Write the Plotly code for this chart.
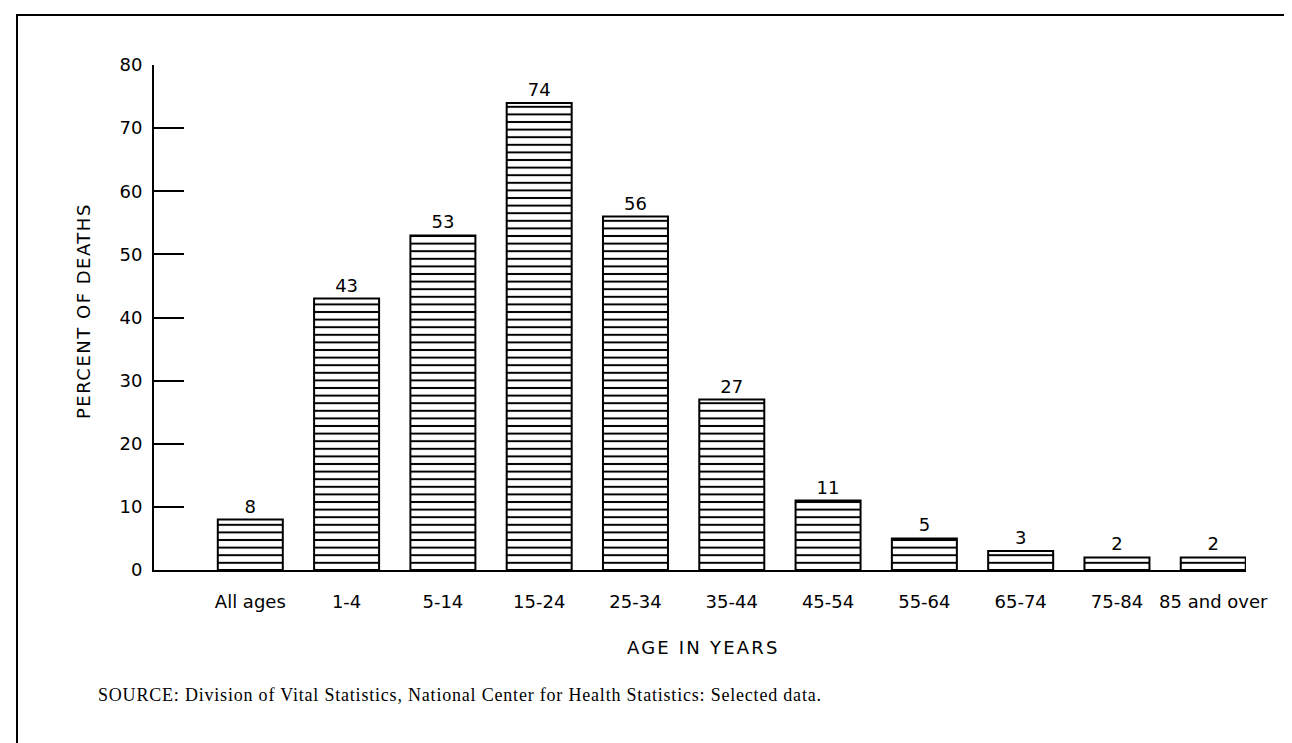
import plotly.graph_objects as go

categories = ["All ages", "1-4", "5-14", "15-24", "25-34", "35-44",
              "45-54", "55-64", "65-74", "75-84", "85 and over"]
percent_values = [8, 43, 53, 74, 56, 27, 11, 5, 3, 2, 2]
bar_labels = ["8", "43", "53", "74", "56", "27", "11", "5", "3", "2", "2"]
y_ticks = [0, 10, 20, 30, 40, 50, 60, 70, 80]

x_title = "AGE IN YEARS"
y_title = "PERCENT OF DEATHS"
source_text = "SOURCE: Division of Vital Statistics, National Center for Health Statistics: Selected data."

W, H = 1292, 743
L, R, T, B = 146, 54, 57, 181

SANS = "DejaVu Sans, Arial, sans-serif"
SERIF = "Liberation Serif, Times New Roman, serif"

fig = go.Figure()
fig.add_trace(go.Bar(
    x=list(range(len(categories))),
    y=percent_values,
    text=bar_labels,
    textposition="outside",
    cliponaxis=False,
    textfont=dict(family=SANS, size=18, color="black"),
    marker=dict(
        color="white",
        line=dict(color="black", width=2),
        pattern=dict(shape="-", size=7.6, solidity=0.26,
                     fgcolor="black", bgcolor="white", fillmode="replace"),
    ),
    hoverinfo="skip",
))

fig.update_layout(
    width=W, height=H,
    margin=dict(l=L, r=R, t=T, b=B, pad=0),
    paper_bgcolor="white", plot_bgcolor="white",
    showlegend=False,
    bargap=0.325,
    xaxis=dict(
        range=[-1, 10.34],
        tickmode="array",
        tickvals=list(range(len(categories))),
        ticktext=categories,
        showline=True, linecolor="black", linewidth=2,
        ticks="", showgrid=False, zeroline=False,
        tickfont=dict(family=SANS, size=18, color="black"),
        ticklabelstandoff=14,
    ),
    yaxis=dict(
        range=[0, 80],
        tickmode="array",
        tickvals=y_ticks,
        showline=True, linecolor="black", linewidth=2,
        ticks="inside", ticklen=30, tickwidth=2, tickcolor="black",
        showgrid=False, zeroline=False,
        tickfont=dict(family=SANS, size=18, color="black"),
        ticklabelstandoff=6,
    ),
)

def px_x(px):
    return (px - L) / (W - L - R)

def px_y(py):
    return (H - B - py) / (H - T - B)

fig.add_annotation(
    text='<span style="letter-spacing:2.2px">' + x_title + '</span>',
    xref="paper", yref="paper", x=px_x(695), y=px_y(639),
    xanchor="center", yanchor="middle", showarrow=False,
    font=dict(family=SANS, size=18, color="black"),
)
fig.add_annotation(
    text='<span style="letter-spacing:1.5px">' + y_title + '</span>',
    xref="paper", yref="paper", x=px_x(75), y=px_y(303),
    xanchor="center", yanchor="middle", showarrow=False, textangle=-90,
    font=dict(family=SANS, size=18, color="black"),
)
fig.add_annotation(
    text='<span style="letter-spacing:0.8px">' + source_text + '</span>',
    xref="paper", yref="paper", x=px_x(88), y=px_y(687),
    xanchor="left", yanchor="middle", showarrow=False,
    font=dict(family=SERIF, size=18, color="black"),
)

# outer frame (bottom edge runs off the page, as in the original)
fig.add_shape(type="rect", xref="paper", yref="paper",
              x0=px_x(9), x1=px_x(1289), y0=px_y(760), y1=px_y(7),
              line=dict(color="black", width=2), layer="above")

fig.write_html("out.html")
